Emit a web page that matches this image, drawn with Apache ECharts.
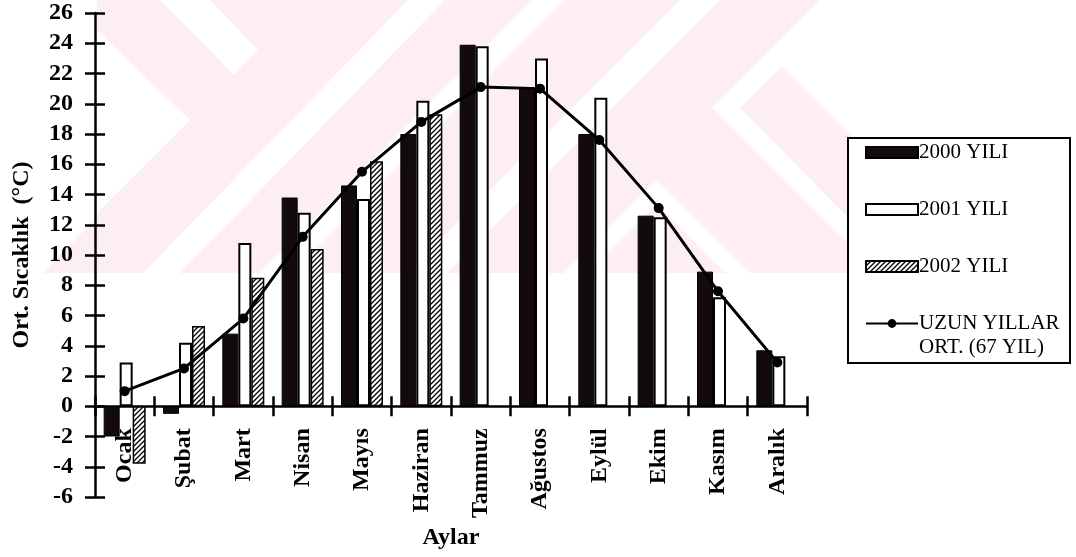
<!DOCTYPE html>
<html>
<head>
<meta charset="utf-8">
<script src="https://cdn.jsdelivr.net/npm/echarts@6/dist/echarts.min.js"></script>
<style>html,body{margin:0;padding:0;background:#fff}#c{width:1076px;height:557px}</style>
</head>
<body>
<div id="c"></div>
<script>
const categories = ['Ocak','Şubat','Mart','Nisan','Mayıs','Haziran','Tammuz','Ağustos','Eylül','Ekim','Kasım','Aralık'];
const y2000 = [-2.0, -0.5, 4.8, 13.8, 14.6, 18.0, 23.9, 21.0, 18.0, 12.6, 8.9, 3.7];
const y2001 = [2.9, 4.2, 10.8, 12.8, 13.7, 20.2, 23.8, 23.0, 20.4, 12.5, 7.2, 3.3];
const y2002 = [-3.8, 5.3, 8.5, 10.4, 16.2, 19.3, null, null, null, null, null, null];
const longTerm = [1.0, 2.5, 5.8, 11.2, 15.5, 18.8, 21.1, 21.0, 17.6, 13.1, 7.6, 2.9];
const seriesNames = ['2000 YILI', '2001 YILI', '2002 YILI', 'UZUN YILLAR ORT. (67 YIL)'];
const yTicks = {min: -6, max: 26, interval: 2};

const FONT = 'Liberation Serif';
const PINK = '#fdeef1';

// hatch pattern
const hc = document.createElement('canvas');
hc.width = 5; hc.height = 5;
const hx = hc.getContext('2d');
hx.fillStyle = '#fff'; hx.fillRect(0,0,5,5);
hx.strokeStyle = '#000'; hx.lineWidth = 1.3;
hx.beginPath();
hx.moveTo(-1,6); hx.lineTo(6,-1);
hx.moveTo(-1,1); hx.lineTo(1,-1);
hx.moveTo(4,6); hx.lineTo(6,4);
hx.stroke();
const hatch = {image: hc, repeat: 'repeat'};

function poly(points, fill) {
  return {type: 'polygon', z: -10, silent: true, shape: {points: points}, style: {fill: fill}};
}

const GRID_TOP = 13, GRID_BOTTOM = 60, H = 557;
// pixel distance from grid bottom (-6) up to the zero line
const zeroOffset = (H - GRID_BOTTOM - GRID_TOP) * (0 - yTicks.min) / (yTicks.max - yTicks.min);

const chart = echarts.init(document.getElementById('c'), null, {renderer: 'canvas'});
const tickStyle = {color: '#000', width: 2.5};
chart.setOption({
  backgroundColor: '#fff',
  animation: false,
  grid: {left: 95, right: 269, top: GRID_TOP, bottom: GRID_BOTTOM, containLabel: false, outerBoundsMode: 'none'},
  graphic: {elements: [
    poly([[97,0],[828,0],[773,58],[988,273],[43,273],[97,217]], PINK),
    poly([[97,30],[190,120],[97,213]], '#fff'),
    poly([[160,0],[210,0],[258,50],[234,75]], '#fff'),
    poly([[408,0],[445,0],[180,273],[143,273]], '#fff'),
    poly([[533,0],[565,0],[292,273],[260,273]], '#fff'),
    poly([[680,0],[720,0],[447,273],[407,273]], '#fff'),
    poly([[820,0],[712,107],[878,273],[903,273],[740,108],[848,0]], '#fff'),
    poly([[657,180],[750,273],[726,273],[657,204],[588,273],[564,273]], '#fff'),
    {type: 'rect', z: 1, silent: true, shape: {x: 848, y: 138, width: 222, height: 225},
     style: {fill: '#fff', stroke: '#000', lineWidth: 2}},
    {type: 'text', z: 5, silent: true, left: 919, top: 337,
     style: {text: 'ORT. (67 YIL)', font: '21px "Liberation Serif"', fill: '#000'}}
  ]},
  legend: {
    orient: 'vertical', left: 865, top: 141, itemWidth: 52, itemHeight: 11, itemGap: 34,
    padding: 0, selectedMode: false,
    textStyle: {fontFamily: FONT, fontSize: 21, color: '#000', lineHeight: 23, padding: [0,0,0,-4]},
    formatter: function (n) { return n === seriesNames[3] ? 'UZUN YILLAR' : n; },
    data: [
      {name: seriesNames[0], icon: 'rect'},
      {name: seriesNames[1], icon: 'rect'},
      {name: seriesNames[2], icon: 'rect'},
      {name: seriesNames[3]}
    ]
  },
  xAxis: [{
    type: 'category', data: categories,
    axisLine: {onZero: true, onZeroAxisIndex: 0, lineStyle: {color: '#000', width: 2.5}},
    axisTick: {show: true, inside: false, length: 10, lineStyle: tickStyle},
    axisLabel: {show: false},
    splitLine: {show: false}
  }, {
    type: 'category', data: categories, position: 'bottom',
    axisLine: {show: false, onZero: true, onZeroAxisIndex: 0},
    axisTick: {show: true, inside: true, length: 10, lineStyle: tickStyle},
    axisLabel: {show: false}, splitLine: {show: false}
  }, {
    type: 'category', data: categories, position: 'bottom', offset: -zeroOffset,
    axisLine: {show: false, onZero: false},
    axisTick: {show: false},
    axisLabel: {rotate: 90, margin: 22, color: '#000', fontFamily: FONT, fontSize: 24, fontWeight: 'bold', interval: 0},
    name: 'Aylar', nameLocation: 'middle', nameGap: 120,
    nameTextStyle: {fontFamily: FONT, fontSize: 24, fontWeight: 'bold', color: '#000'},
    splitLine: {show: false}
  }],
  yAxis: [{
    type: 'value', min: yTicks.min, max: yTicks.max, interval: yTicks.interval,
    axisLine: {show: true, onZero: false, lineStyle: {color: '#000', width: 2.5}},
    axisTick: {show: true, inside: false, length: 10, lineStyle: tickStyle},
    axisLabel: {margin: 22, color: '#000', fontFamily: FONT, fontSize: 24, fontWeight: 'bold'},
    splitLine: {show: false},
    name: 'Ort. Sıcaklık  (°C)', nameLocation: 'middle', nameGap: 61, nameRotate: 90,
    nameTextStyle: {fontFamily: FONT, fontSize: 24, fontWeight: 'bold', color: '#000'}
  }, {
    type: 'value', min: yTicks.min, max: yTicks.max, interval: yTicks.interval, position: 'left',
    axisLine: {show: false, onZero: false},
    axisTick: {show: true, inside: true, length: 10, lineStyle: tickStyle},
    axisLabel: {show: false}, splitLine: {show: false}
  }],
  series: [
    {name: seriesNames[0], type: 'bar', data: y2000, barWidth: 16, barGap: '0%',
     itemStyle: {color: '#120a0b', borderColor: '#000', borderWidth: 1}},
    {name: seriesNames[1], type: 'bar', data: y2001, barWidth: 13, barGap: '0%',
     itemStyle: {color: '#fff', borderColor: '#000', borderWidth: 2}},
    {name: seriesNames[2], type: 'bar', data: y2002, barWidth: 13, barGap: '0%',
     itemStyle: {color: hatch, borderColor: '#000', borderWidth: 1.5}},
    {name: seriesNames[3], type: 'line', data: longTerm, z: 5,
     symbol: 'circle', symbolSize: 10, showSymbol: true,
     lineStyle: {color: '#000', width: 3}, itemStyle: {color: '#000'}}
  ]
});
</script>
</body>
</html>
